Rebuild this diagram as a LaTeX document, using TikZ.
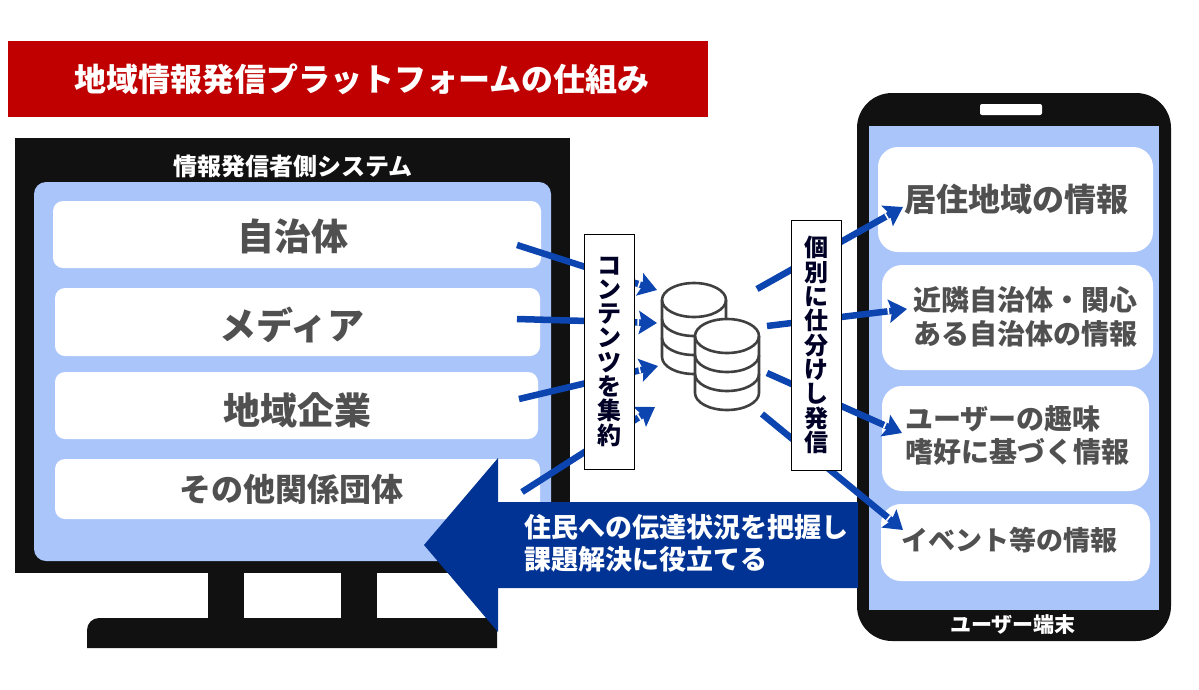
\documentclass[tikz,border=0pt]{standalone}
\usepackage{fontspec}
\setmainfont{Noto Sans CJK JP}
\usetikzlibrary{arrows.meta,positioning}
\definecolor{titlered}{RGB}{192,0,0}
\definecolor{bezel}{RGB}{17,17,17}
\definecolor{screenblue}{RGB}{170,197,250}
\definecolor{cardtext}{RGB}{80,80,80}
\definecolor{flowblue}{RGB}{12,68,176}
\definecolor{backblue}{RGB}{0,51,148}
\definecolor{dbgray}{RGB}{64,64,64}
\tikzset{
  cardlabel/.style={text=cardtext, font=\fontsize{#1}{#1}\selectfont\bfseries, inner sep=0pt},
  whitelabel/.style={text=white, font=\fontsize{#1}{#1}\selectfont\bfseries, inner sep=0pt},
  tagbox/.style={draw=black, line width=0.8pt, fill=white, minimum width=50pt, align=center, inner sep=0pt,
    text=black!85!blue, font=\fontsize{24}{24.3}\selectfont\bfseries},
  flow/.style={draw=flowblue, line width=6.5pt,
    -{Bar[white,width=6.5pt,line width=1.6pt,sep=0pt]Stealth[length=18pt,width=23pt,inset=3pt]}}
}
\begin{document}
\begin{tikzpicture}[x=1pt, y=-1pt]
  \useasboundingbox (0,0) rectangle (1199,689);
  % title
  \node[fill=titlered, minimum width=700pt, minimum height=76pt, inner sep=0pt] (titlebar) at (358,79) {};
  \node[whitelabel=32] (titletext) at (362,79) {地域情報発信プラットフォームの仕組み};
  % monitor
  \fill[bezel] (15,138) rectangle (570,573);
  \fill[bezel] (208,570) rectangle (244,622);
  \fill[bezel] (341,570) rectangle (377,622);
  \fill[bezel] (87,648) [rounded corners=12pt] -- (87,618) [sharp corners] -- (497,618) -- (497,648) -- cycle;
  \fill[screenblue, rounded corners=12pt] (34,182) rectangle (551,561);
  \node[whitelabel=24] (sender) at (293,166) {情報発信者側システム};
  \foreach \xa/\ya/\xb/\yb in {53/201/541/268, 55/288/540/356, 55/372/538/439, 55/459/540/519}
    \fill[white, rounded corners=10pt] (\xa,\ya) rectangle (\xb,\yb);
  \node[cardlabel=37] (jichitai) at (293,236) {自治体};
  \node[cardlabel=37] (media) at (292,325) {メディア};
  \node[cardlabel=37] (kigyo) at (297,410) {地域企業};
  \node[cardlabel=32] (dantai) at (291,489) {その他関係団体};
  % phone
  \fill[bezel, rounded corners=35pt] (857,93) rectangle (1171,641);
  \fill[screenblue] (869,126) rectangle (1159,610);
  \fill[white, rounded corners=2pt] (980,104) rectangle (1042,115);
  \node[whitelabel=21] (terminal) at (1013,625) {ユーザー端末};
  \foreach \xa/\ya/\xb/\yb in {878/147/1153/252, 882/265/1153/370, 882/386/1149/491, 881/504/1150/581}
    \fill[white, rounded corners=20pt] (\xa,\ya) rectangle (\xb,\yb);
  \node[cardlabel=32] (kyoju) at (1016,199) {居住地域の情報};
  \node[cardlabel=28, anchor=west] (kinrin) at (913,300) {近隣自治体・関心};
  \node[cardlabel=28, anchor=west] (kanshin) at (913,334) {ある自治体の情報};
  \node[cardlabel=28, anchor=west] (shumi) at (905,419) {ユーザーの趣味};
  \node[cardlabel=28, anchor=west] (shiko) at (905,452) {嗜好に基づく情報};
  \node[cardlabel=27, anchor=west] (event) at (901,540) {イベント等の情報};
  % feedback arrow
  \fill[backblue] (424,545) -- (498,458) -- (498,502) -- (858,502) -- (858,588) -- (498,588) -- (498,632) -- cycle;
  \node[whitelabel=27, anchor=west] (haaku) at (524,527) {住民への伝達状況を把握し};
  \node[whitelabel=27, anchor=west] (kaiketsu) at (524,559) {課題解決に役立てる};
  % flows into and out of the database
  \foreach \n/\sx/\sy/\ex/\ey in {a/517/245/657/290, b/517/319/657/323, c/519/399/658/366, d/522/492/655/407,
      e/757/289/903/207, f/767/326/907/309, g/767/373/902/433, h/762/414/903/530} {
    \coordinate (s\n) at (\sx,\sy);
    \coordinate (t\n) at (\ex,\ey);
    \draw[flow] (s\n) -- (t\n);
  }
  \node[tagbox, minimum height=235pt] (shuyaku) at (609,351.5) {コ\\ン\\テ\\ン\\ツ\\を\\集\\約};
  \node[tagbox, minimum height=250pt] (shiwake) at (816,345) {個\\別\\に\\仕\\分\\け\\し\\発\\信};
  % database icon
  \foreach \cx/\cy in {694/300, 727/336} {
    \begin{scope}[shift={(\cx,\cy)}]
      \fill[white] (-32,0) arc[start angle=180, end angle=360, x radius=32, y radius=17] -- (32,57)
        arc[start angle=0, end angle=180, x radius=32, y radius=17] -- cycle;
      \draw[dbgray, line width=2.6pt] (0,0) ellipse[x radius=32, y radius=17];
      \draw[dbgray, line width=2.6pt] (-32,0) -- (-32,57) arc[start angle=180, end angle=0, x radius=32, y radius=17] -- (32,0);
      \foreach \h in {19,38}
        \draw[dbgray, line width=2.6pt] (-32,\h) arc[start angle=180, end angle=0, x radius=32, y radius=17];
    \end{scope}
  }
\end{tikzpicture}
\end{document}
